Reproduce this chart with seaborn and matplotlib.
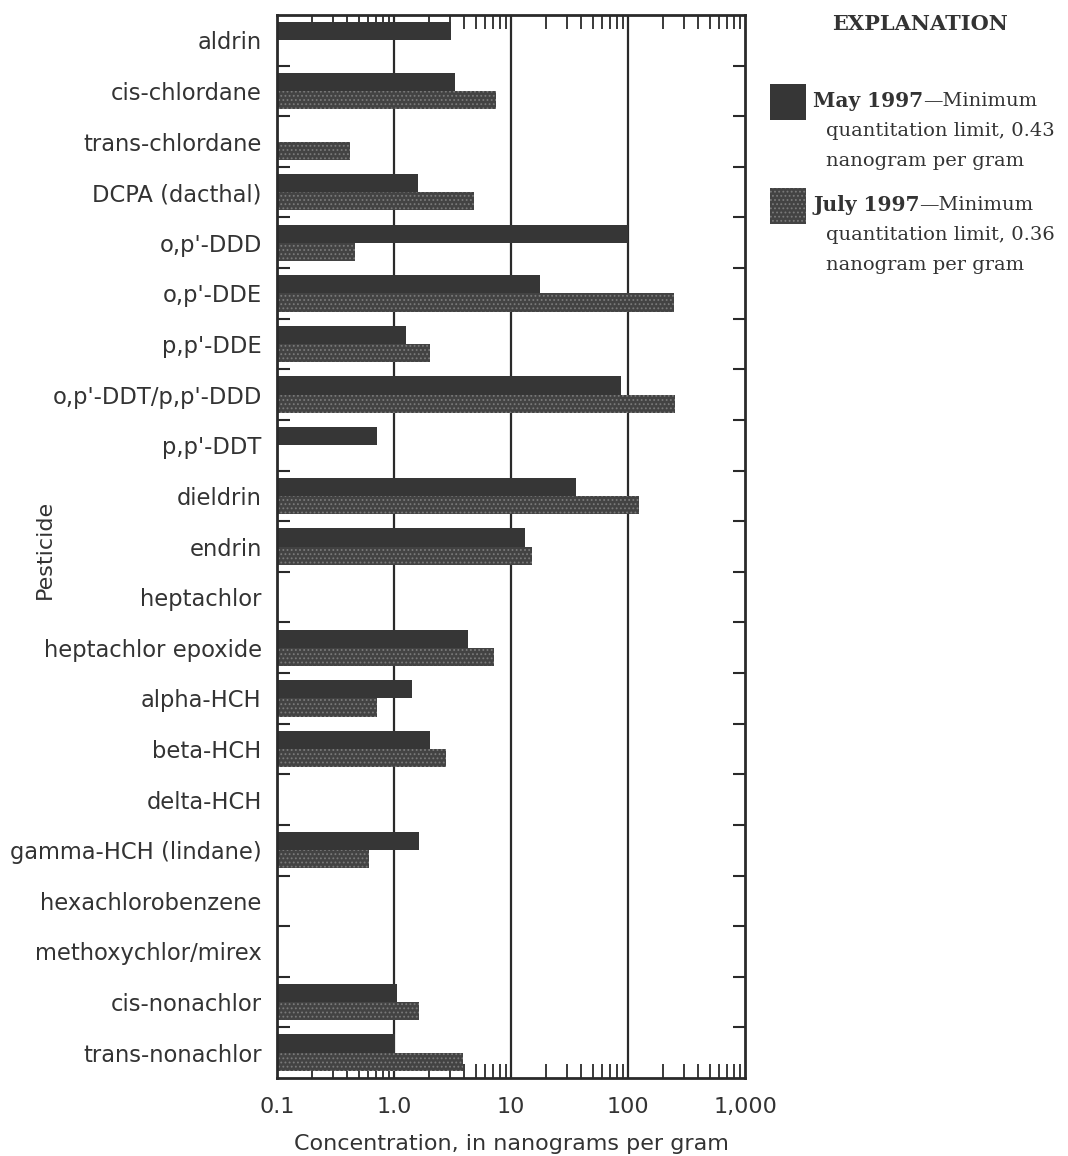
import numpy as np
import pandas as pd
import matplotlib
matplotlib.use("Agg")
import matplotlib.pyplot as plt
from matplotlib.patches import Rectangle
from matplotlib.ticker import FixedLocator, LogLocator, NullFormatter
import seaborn as sns

pesticides = [
    "aldrin", "cis-chlordane", "trans-chlordane", "DCPA (dacthal)",
    "o,p'-DDD", "o,p'-DDE", "p,p'-DDE", "o,p'-DDT/p,p'-DDD", "p,p'-DDT",
    "dieldrin", "endrin", "heptachlor", "heptachlor epoxide", "alpha-HCH",
    "beta-HCH", "delta-HCH", "gamma-HCH (lindane)", "hexachlorobenzene",
    "methoxychlor/mirex", "cis-nonachlor", "trans-nonachlor",
]
# Concentrations in ng/g; NaN = not detected
may_1997 = [3.1, 3.3, np.nan, 1.6, 100, 17.7, 1.27, 87, 0.71,
            36, 13.3, np.nan, 4.3, 1.42, 2.03, np.nan, 1.64, np.nan,
            np.nan, 1.07, 1.01]
july_1997 = [np.nan, 7.4, 0.42, 4.8, 0.46, 247, 2.03, 252, np.nan,
             125, 15.0, np.nan, 7.2, 0.71, 2.77, np.nan, 0.61, np.nan,
             np.nan, 1.64, 3.87]
seasons = ["May 1997", "July 1997"]
x_ticks = [0.1, 1, 10, 100, 1000]
x_tick_labels = ["0.1", "1.0", "10", "100", "1,000"]

df = pd.DataFrame({
    "Pesticide": pesticides * 2,
    "Season": [seasons[0]] * len(pesticides) + [seasons[1]] * len(pesticides),
    "Concentration": may_1997 + july_1997,
}).dropna()

sns.set_theme(style="white")
plt.rcParams["font.family"] = ["DejaVu Sans"]
plt.rcParams["hatch.linewidth"] = 0.8
ink = "#333333"
may_color, july_color, speckle = "#363636", "#434343", "#7a7a7a"

fig = plt.figure(figsize=(10.68, 11.56), dpi=100)
ax = fig.add_axes([277 / 1068, 1 - 1078 / 1156, 468 / 1068, 1063 / 1156])
ax.set_xscale("log")

sns.barplot(
    data=df, y="Pesticide", x="Concentration", hue="Season",
    order=pesticides, hue_order=seasons, orient="h",
    palette=[may_color, july_color], width=0.72, dodge=True,
    errorbar=None, legend=False, ax=ax, linewidth=0,
)

# speckled texture on the July bars
for bar in ax.containers[1]:
    bar.set_hatch("....")
    bar.set_edgecolor(speckle)
    bar.set_linewidth(0)

ax.set_xlim(0.1, 1000)
ax.set_ylim(len(pesticides) - 0.5, -0.5)

# decade grid lines
for v in x_ticks[1:-1]:
    ax.axvline(v, color="#2a2a2a", lw=1.6, zorder=0.5)

ax.set_xticks(x_ticks)
ax.set_xticklabels(x_tick_labels)
ax.xaxis.set_minor_locator(LogLocator(base=10, subs=np.arange(2, 10)))
ax.xaxis.set_minor_formatter(NullFormatter())
ax.tick_params(axis="x", which="major", length=0, pad=14, labelsize=16, colors=ink)
ax.tick_params(axis="x", which="minor", direction="in", length=10, width=1.3,
               top=True, bottom=True, color="#2a2a2a")

ax.set_yticks(range(len(pesticides)))
ax.set_yticklabels(pesticides)
ax.yaxis.set_minor_locator(FixedLocator(np.arange(0.5, len(pesticides) - 1, 1.0)))
ax.tick_params(axis="y", which="major", length=0, pad=11, labelsize=16.3, colors=ink)
ax.tick_params(axis="y", which="minor", direction="in", length=9, width=1.5,
               left=True, right=True, color="#2a2a2a")

for s in ax.spines.values():
    s.set_color("#2a2a2a")
    s.set_linewidth(2)

ax.set_xlabel("Concentration, in nanograms per gram", fontsize=16, color=ink, labelpad=12)
ax.set_ylabel("")
fig.text(45 / 1068, 1 - 549 / 1156, "Pesticide", rotation=90, ha="center", va="center",
         fontsize=16, color=ink)

# Explanation box
serif = ["DejaVu Serif"]
fig.text(920 / 1068, 1 - 24 / 1156, "EXPLANATION", ha="center", va="center",
         fontsize=15, fontweight="bold", color=ink, family=serif)

entries = [
    ("May 1997", "—Minimum", ["quantitation limit, 0.43", "nanogram per gram"], 84, may_color, None),
    ("July 1997", "—Minimum", ["quantitation limit, 0.36", "nanogram per gram"], 188, july_color, "...."),
]
fig.canvas.draw()
renderer = fig.canvas.get_renderer()
for bold, rest, lines, ytop, color, hatch in entries:
    sq = Rectangle((770 / 1068, 1 - (ytop + 36) / 1156), 36 / 1068, 36 / 1156,
                   transform=fig.transFigure, facecolor=color,
                   edgecolor=speckle if hatch else color, hatch=hatch, linewidth=0)
    fig.patches.append(sq)
    y0 = 1 - (ytop + 17) / 1156
    t = fig.text(813 / 1068, y0, bold, ha="left", va="center", fontsize=14.5,
                 fontweight="bold", color=ink, family=serif)
    bb = t.get_window_extent(renderer)
    fig.text(bb.x1 / 1068, y0, rest, ha="left", va="center", fontsize=14,
             color=ink, family=serif)
    for k, line in enumerate(lines):
        fig.text(826 / 1068, y0 - (30 * (k + 1)) / 1156, line, ha="left", va="center",
                 fontsize=14, color=ink, family=serif)

fig.savefig("out.png", dpi=100, facecolor="white")
